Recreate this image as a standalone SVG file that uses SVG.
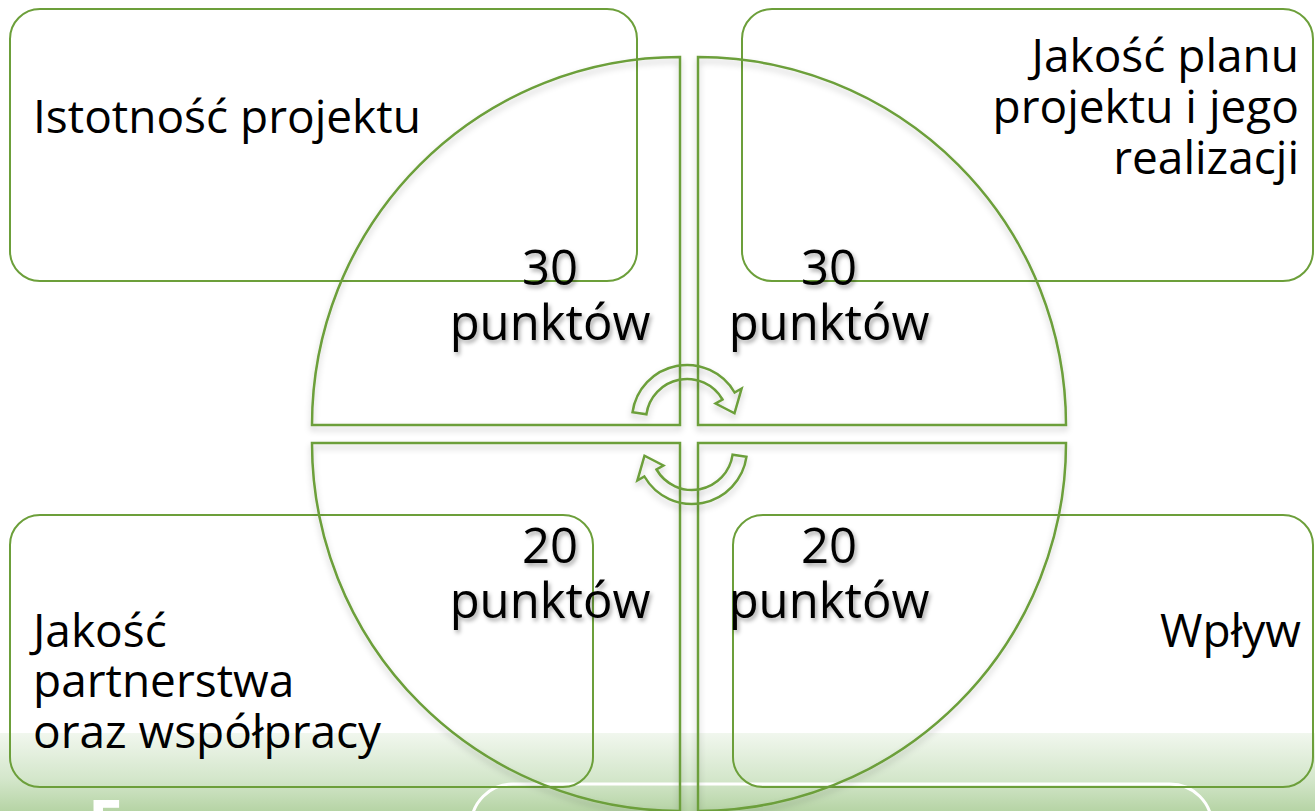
<svg xmlns="http://www.w3.org/2000/svg" width="1315" height="811" viewBox="0 0 1315 811">
  <defs>
    <linearGradient id="band" x1="0" y1="0" x2="0" y2="1">
      <stop offset="0" stop-color="#f1f7ee"/>
      <stop offset="0.6" stop-color="#d3e6ca"/>
      <stop offset="1" stop-color="#b6d4a5"/>
    </linearGradient>
    <filter id="shadow" x="-10%" y="-10%" width="120%" height="120%">
      <feDropShadow dx="0" dy="4" stdDeviation="3" flood-color="#000" flood-opacity="0.22"/>
    </filter>
    <filter id="tshadow" x="-20%" y="-20%" width="140%" height="140%">
      <feDropShadow dx="2" dy="3" stdDeviation="2" flood-color="#000" flood-opacity="0.35"/>
    </filter>
  </defs>
  <style>
    .box { fill: none; stroke: #6c9f3a; stroke-width: 2; }
    .quad { fill: none; stroke: #6c9f3a; stroke-width: 2.5; }
    .arrow { fill: none; stroke: #6c9f3a; stroke-width: 2.5; stroke-linejoin: miter; }
    .t { font-family: "Open Sans", "Liberation Sans", sans-serif; font-size: 46px; fill: #000; }
    .r { text-anchor: end; }
    .pts { font-family: "Open Sans", "Liberation Sans", sans-serif; font-size: 49px; fill: #000; text-anchor: middle; }
  </style>

  <rect x="0" y="0" width="1315" height="811" fill="#ffffff"/>
  <rect x="0" y="733" width="1315" height="78" fill="url(#band)"/>
  <rect x="471" y="784" width="741" height="90" rx="42" fill="none" stroke="#ffffff" stroke-width="3"/>
  <text x="88" y="845" font-family="Open Sans, Liberation Sans, sans-serif" font-size="62" font-weight="bold" fill="#ffffff">E</text>

  <g id="node-istotnosc">
    <rect class="box" x="10" y="9" width="627" height="272" rx="30"/>
    <text class="t" x="33" y="133">Istotność projektu</text>
  </g>
  <g id="node-jakosc-planu">
    <rect class="box" x="742" y="9" width="571" height="272" rx="30"/>
    <text class="t r" x="1299" y="72">Jakość planu</text>
    <text class="t r" x="1299" y="123">projektu i jego</text>
    <text class="t r" x="1299" y="174">realizacji</text>
  </g>
  <g id="node-partnerstwo">
    <rect class="box" x="10" y="515" width="583" height="272" rx="30"/>
    <text class="t" x="33" y="647">Jakość</text>
    <text class="t" x="33" y="697">partnerstwa</text>
    <text class="t" x="33" y="748">oraz współpracy</text>
  </g>
  <g id="node-wplyw">
    <rect class="box" x="733" y="515" width="580" height="272" rx="30"/>
    <text class="t r" x="1301" y="647">Wpływ</text>
  </g>

  <g id="quadrants" filter="url(#shadow)">
    <path id="quad-tl" class="quad" d="M680 425 L312 425 A368 368 0 0 1 680 57 Z"/>
    <path id="quad-tr" class="quad" d="M698 425 L698 57 A368 368 0 0 1 1066 425 Z"/>
    <path id="quad-bl" class="quad" d="M680 443 L680 811 A368 368 0 0 1 312 443 Z"/>
    <path id="quad-br" class="quad" d="M698 443 L1066 443 A368 368 0 0 1 698 811 Z"/>
  </g>

  <g id="connectors" filter="url(#shadow)">
    <path id="arrow-top" class="arrow" d="M632.5 412.3 A55 55 0 0 1 734.6 392.5 L741.6 388.5 L734.5 413.3 L715.6 403.5 L722.5 399.5 A41 41 0 0 0 646.4 414.3 Z"/>
    <path id="arrow-bottom" class="arrow" transform="rotate(180 689.5 434.5)" d="M632.5 412.3 A55 55 0 0 1 734.6 392.5 L741.6 388.5 L734.5 413.3 L715.6 403.5 L722.5 399.5 A41 41 0 0 0 646.4 414.3 Z"/>
  </g>

  <g id="labels" filter="url(#tshadow)">
    <text class="pts" x="550" y="285">30</text>
    <text class="pts" x="550" y="340">punktów</text>
    <text class="pts" x="829" y="285">30</text>
    <text class="pts" x="829" y="340">punktów</text>
    <text class="pts" x="550" y="563">20</text>
    <text class="pts" x="550" y="618">punktów</text>
    <text class="pts" x="829" y="563">20</text>
    <text class="pts" x="829" y="618">punktów</text>
  </g>
</svg>
